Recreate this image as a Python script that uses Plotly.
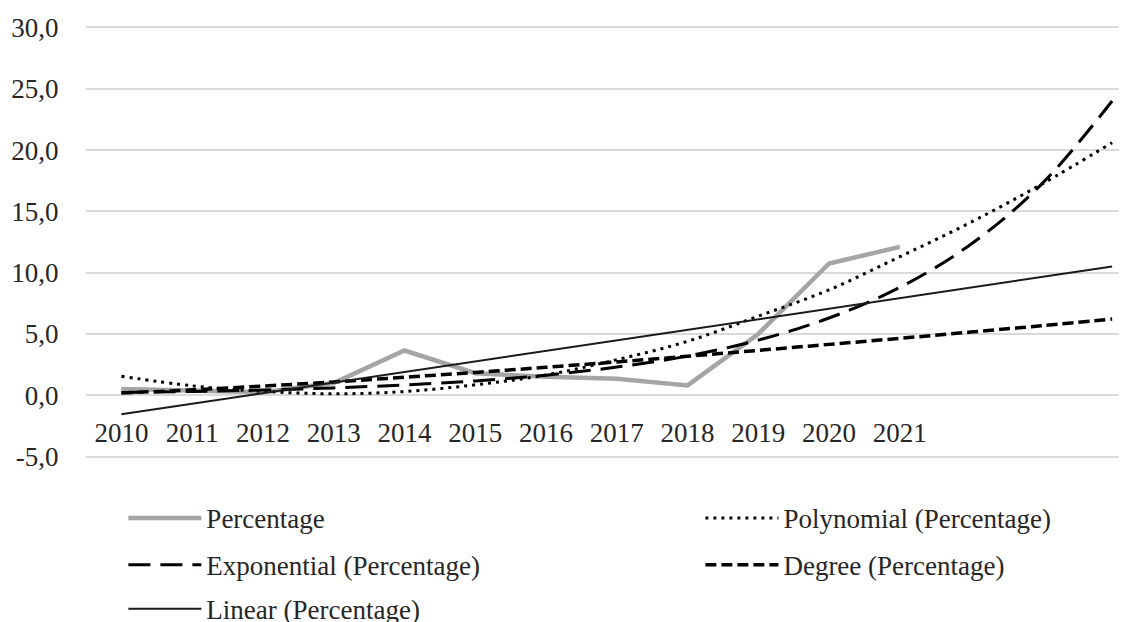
import plotly.graph_objects as go

# ---- data ----
years = [2010, 2011, 2012, 2013, 2014, 2015, 2016, 2017, 2018, 2019, 2020, 2021, 2022, 2023, 2024]
data_years = [2010, 2011, 2012, 2013, 2014, 2015, 2016, 2017, 2018, 2019, 2020, 2021]
tick_labels = ["2010", "2011", "2012", "2013", "2014", "2015", "2016", "2017", "2018", "2019", "2020", "2021"]

percentage = [0.5, 0.35, 0.25, 1.0, 3.65, 1.8, 1.5, 1.35, 0.8, 5.0, 10.75, 12.1]
polynomial = [1.55, 0.77, 0.32, 0.12, 0.3, 0.85, 1.65, 2.9, 4.4, 6.45, 8.6, 11.3, 14.1, 17.2, 20.6]
exponential = [0.22, 0.31, 0.43, 0.6, 0.84, 1.17, 1.64, 2.3, 3.2, 4.5, 6.3, 8.8, 12.3, 17.2, 24.0]
degree = [0.18, 0.44, 0.75, 1.09, 1.47, 1.86, 2.28, 2.72, 3.18, 3.66, 4.15, 4.64, 5.15, 5.67, 6.21]
linear = [-1.55, -0.69, 0.17, 1.03, 1.89, 2.75, 3.62, 4.48, 5.34, 6.20, 7.06, 7.92, 8.78, 9.64, 10.5]

y_ticks = [-5, 0, 5, 10, 15, 20, 25, 30]
y_tick_labels = ["-5,0", "0,0", "5,0", "10,0", "15,0", "20,0", "25,0", "30,0"]

FONT = "Liberation Serif"
TXT = "#262626"
FS = 27

fig = go.Figure()
fig.add_trace(go.Scatter(x=data_years, y=percentage, mode="lines", name="Percentage",
                         line=dict(color="#a5a5a5", width=4.5), legend="legend"))
fig.add_trace(go.Scatter(x=years, y=polynomial, mode="lines", name="Polynomial (Percentage)",
                         line=dict(color="black", width=3, dash="3px,5px", shape="spline"), legend="legend2"))
fig.add_trace(go.Scatter(x=years, y=exponential, mode="lines", name="Exponential (Percentage)",
                         line=dict(color="black", width=3, dash="22px,10px", shape="spline"), legend="legend3"))
fig.add_trace(go.Scatter(x=years, y=degree, mode="lines", name="Degree (Percentage)",
                         line=dict(color="black", width=3.5, dash="11px,5px", shape="spline"), legend="legend4"))
fig.add_trace(go.Scatter(x=years, y=linear, mode="lines", name="Linear (Percentage)",
                         line=dict(color="#1a1a1a", width=2), legend="legend5"))

leg_common = dict(orientation="v", xanchor="left", yanchor="middle", itemwidth=73,
                  font=dict(family=FONT, size=FS, color=TXT), bgcolor="rgba(0,0,0,0)")

col1 = 0.0359
col2 = 0.5902
row1, row2, row3 = -0.1368, -0.2448, -0.346

fig.update_layout(
    width=1119, height=614,
    margin=dict(l=78, r=0, t=16.5, b=162.5, autoexpand=False),
    paper_bgcolor="white", plot_bgcolor="white",
    font=dict(family=FONT, size=FS, color=TXT),
    showlegend=True,
    xaxis=dict(range=[2009.5, 2024.21], tickvals=data_years, ticktext=tick_labels,
               anchor="free", position=5.2 / 35.4, showgrid=False, zeroline=False, showline=False,
               ticks="outside", ticklen=13, tickcolor="rgba(0,0,0,0)",
               tickfont=dict(family=FONT, size=FS, color=TXT)),
    yaxis=dict(range=[-5.2, 30.2], tickvals=y_ticks, ticktext=y_tick_labels,
               showgrid=True, gridcolor="#d9d9d9", gridwidth=1.5, zeroline=False, showline=False,
               ticks="outside", ticklen=21, tickcolor="rgba(0,0,0,0)",
               tickfont=dict(family=FONT, size=FS, color=TXT)),
    legend=dict(leg_common, x=col1, y=row1),
    legend2=dict(leg_common, x=col2, y=row1),
    legend3=dict(leg_common, x=col1, y=row2),
    legend4=dict(leg_common, x=col2, y=row2),
    legend5=dict(leg_common, x=col1, y=row3),
)

fig.write_html("out.html")
